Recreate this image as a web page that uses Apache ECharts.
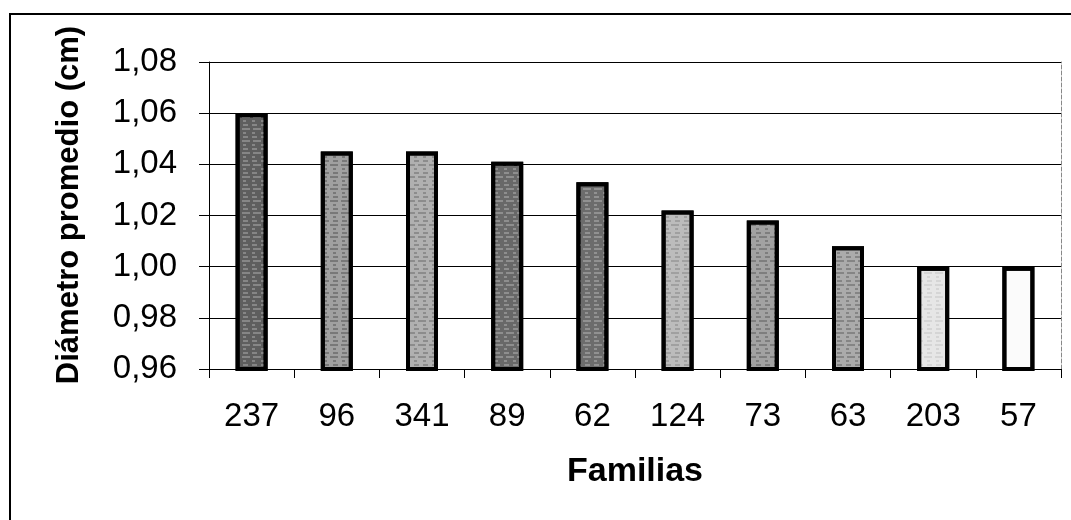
<!DOCTYPE html>
<html>
<head>
<meta charset="utf-8">
<script src="https://cdn.jsdelivr.net/npm/echarts@6/dist/echarts.min.js"></script>
<style>
html,body{margin:0;padding:0;background:#fff;}
#chart{width:1071px;height:520px;}
</style>
</head>
<body>
<div id="chart"></div>
<script>
// ---- data ----
const familias = ['237', '96', '341', '89', '62', '124', '73', '63', '203', '57'];
const diametro = [1.060, 1.045, 1.045, 1.041, 1.033, 1.022, 1.018, 1.008, 1.000, 1.000];
const yTicks = [0.96, 0.98, 1.00, 1.02, 1.04, 1.06, 1.08];
const xTitle = 'Familias';
const yTitle = 'Diámetro promedio (cm)';

// ---- styles (kept apart from data) ----
const barShades = ['#5e5e5e', '#a0a0a0', '#b0b0b0', '#686868', '#6c6c6c', '#bcbcbc', '#a2a2a2', '#ababab', '#e6e6e6', '#fbfbfb'];
const decalInk = ['rgba(255,255,255,0.25)', 'rgba(0,0,0,0.25)', 'rgba(0,0,0,0.2)', 'rgba(255,255,255,0.25)', 'rgba(255,255,255,0.25)', 'rgba(0,0,0,0.15)', 'rgba(0,0,0,0.22)', 'rgba(0,0,0,0.22)', 'rgba(0,0,0,0.07)', 'rgba(0,0,0,0)'];

const FONT = "'Liberation Sans', Arial, sans-serif";
const fmt = v => v.toFixed(2).replace('.', ',');

const chart = echarts.init(document.getElementById('chart'), null, {renderer: 'canvas'});

const seriesData = diametro.map((v, i) => ({
  value: v,
  itemStyle: {
    color: barShades[i],
    decal: {
      symbol: 'rect',
      symbolSize: 1,
      color: decalInk[i],
      dashArrayX: [[8, 3], [3, 6], [5, 4]],
      dashArrayY: [2, 2],
      rotation: 0
    }
  }
}));

chart.setOption({
  animation: false,
  backgroundColor: '#ffffff',
  grid: {left: 209, right: 10, top: 62, bottom: 151, containLabel: false},
  xAxis: {
    type: 'category',
    data: familias,
    name: xTitle,
    nameLocation: 'middle',
    nameGap: 86,
    nameTextStyle: {fontFamily: FONT, fontSize: 34, fontWeight: 'bold', color: '#000'},
    axisLine: {show: true, onZero: false, lineStyle: {color: '#000', width: 1}},
    axisTick: {show: true, inside: false, length: 9, alignWithLabel: false, lineStyle: {color: '#000'}},
    axisLabel: {fontFamily: FONT, fontSize: 33, color: '#000', margin: 31, interval: 0},
    splitLine: {show: false}
  },
  yAxis: [{
    type: 'value',
    min: yTicks[0],
    max: yTicks[yTicks.length - 1],
    interval: 0.02,
    axisLine: {show: true, lineStyle: {color: '#000', width: 1}},
    axisTick: {show: true, inside: false, length: 10, lineStyle: {color: '#000'}},
    axisLabel: {fontFamily: FONT, fontSize: 33, color: '#000', margin: 32, formatter: fmt},
    splitLine: {show: true, lineStyle: {color: '#000', width: 1}}
  }, {
    type: 'value',
    position: 'right',
    min: yTicks[0],
    max: yTicks[yTicks.length - 1],
    interval: 0.02,
    axisLine: {show: true, lineStyle: {color: '#888', width: 1, type: 'dashed'}},
    axisTick: {show: false},
    axisLabel: {show: false},
    splitLine: {show: false}
  }],
  series: [{
    type: 'bar',
    data: seriesData,
    barWidth: 32,
    itemStyle: {borderColor: '#000', borderWidth: 4}
  }],
  graphic: [
    {
      type: 'rect',
      shape: {x: 10, y: 14, width: 1200, height: 700},
      style: {fill: 'none', stroke: '#000', lineWidth: 2},
      silent: true
    },
    {
      type: 'text',
      x: 69, y: 205,
      rotation: Math.PI / 2,
      style: {
        text: yTitle,
        font: "bold 31px 'Liberation Sans', Arial, sans-serif",
        fill: '#000',
        align: 'center',
        verticalAlign: 'middle'
      }
    }
  ]
});
</script>
</body>
</html>
